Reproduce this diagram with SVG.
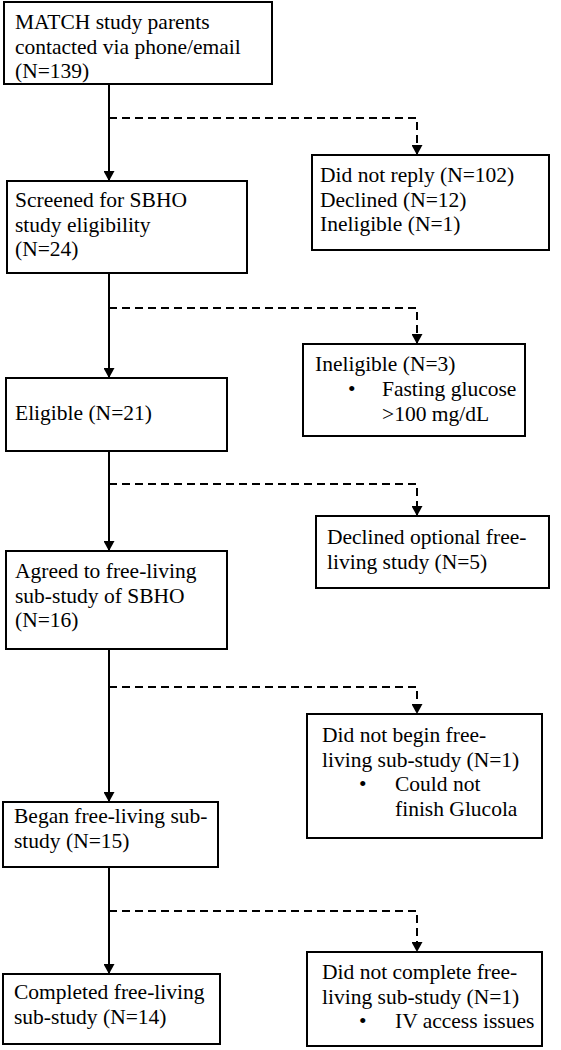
<svg xmlns="http://www.w3.org/2000/svg" width="561" height="1050" viewBox="0 0 561 1050">
<style>
.box{fill:#fff;stroke:#000;stroke-width:2}
.t{font-family:"Liberation Serif","Times New Roman",serif;font-size:21.5px;fill:#000}
.solid{fill:none;stroke:#000;stroke-width:2}
.dash{fill:none;stroke:#000;stroke-width:2;stroke-dasharray:8 5}
</style>
<defs>
<marker id="ah" markerUnits="userSpaceOnUse" markerWidth="11" markerHeight="11" refX="10" refY="5.5" orient="auto">
<path d="M0,0 L10,5.5 L0,11 z" fill="#000"/>
</marker>
</defs>
<rect width="561" height="1050" fill="#fff"/>
<g id="connectors">
<path class="solid" d="M109,84 V181" marker-end="url(#ah)"/>
<path class="dash" d="M109,118 H417 V155" marker-end="url(#ah)"/>
<path class="solid" d="M109,273 V378" marker-end="url(#ah)"/>
<path class="dash" d="M109,308 H417 V344" marker-end="url(#ah)"/>
<path class="solid" d="M109,451 V551" marker-end="url(#ah)"/>
<path class="dash" d="M109,484 H417 V516" marker-end="url(#ah)"/>
<path class="solid" d="M109,649 V802" marker-end="url(#ah)"/>
<path class="dash" d="M109,687 H417 V714" marker-end="url(#ah)"/>
<path class="solid" d="M109,867 V974" marker-end="url(#ah)"/>
<path class="dash" d="M109,911 H417 V952" marker-end="url(#ah)"/>
</g>
<g id="n1">
<rect class="box" x="4" y="2" width="268" height="82"/>
<text class="t" x="15" y="29">MATCH study parents</text>
<text class="t" x="15" y="53.5">contacted via phone/email</text>
<text class="t" x="15" y="78">(N=139)</text>
</g>
<g id="n2">
<rect class="box" x="312" y="155" width="237" height="95"/>
<text class="t" x="320" y="182">Did not reply (N=102)</text>
<text class="t" x="320" y="206.5">Declined (N=12)</text>
<text class="t" x="320" y="231">Ineligible (N=1)</text>
</g>
<g id="n3">
<rect class="box" x="7" y="181" width="240" height="92"/>
<text class="t" x="15" y="207">Screened for SBHO</text>
<text class="t" x="15" y="231.5">study eligibility</text>
<text class="t" x="15" y="256">(N=24)</text>
</g>
<g id="n4">
<rect class="box" x="303" y="344" width="222" height="92"/>
<text class="t" x="315" y="371">Ineligible (N=3)</text>
<text class="t" x="348" y="396">•</text>
<text class="t" x="382" y="396">Fasting glucose</text>
<text class="t" x="382" y="420.5">&gt;100 mg/dL</text>
</g>
<g id="n5">
<rect class="box" x="6" y="378" width="221" height="73"/>
<text class="t" x="15" y="420">Eligible (N=21)</text>
</g>
<g id="n6">
<rect class="box" x="316" y="516" width="233" height="72"/>
<text class="t" x="327" y="544">Declined optional free-</text>
<text class="t" x="327" y="568.5">living study (N=5)</text>
</g>
<g id="n7">
<rect class="box" x="6" y="551" width="221" height="98"/>
<text class="t" x="15" y="578">Agreed to free-living</text>
<text class="t" x="15" y="602.5">sub-study of SBHO</text>
<text class="t" x="15" y="627">(N=16)</text>
</g>
<g id="n8">
<rect class="box" x="307" y="714" width="235" height="124"/>
<text class="t" x="322" y="742">Did not begin free-</text>
<text class="t" x="322" y="766.5">living sub-study (N=1)</text>
<text class="t" x="359" y="791">•</text>
<text class="t" x="395" y="791">Could not</text>
<text class="t" x="395" y="815.5">finish Glucola</text>
</g>
<g id="n9">
<rect class="box" x="3" y="802" width="215" height="65"/>
<text class="t" x="14" y="823">Began free-living sub-</text>
<text class="t" x="14" y="847.5">study (N=15)</text>
</g>
<g id="n10">
<rect class="box" x="307" y="952" width="235" height="94"/>
<text class="t" x="322" y="979">Did not complete free-</text>
<text class="t" x="322" y="1003.5">living sub-study (N=1)</text>
<text class="t" x="359" y="1028">•</text>
<text class="t" x="395" y="1028">IV access issues</text>
</g>
<g id="n11">
<rect class="box" x="3" y="974" width="217" height="70"/>
<text class="t" x="14" y="999">Completed free-living</text>
<text class="t" x="14" y="1023.5">sub-study (N=14)</text>
</g>
</svg>
